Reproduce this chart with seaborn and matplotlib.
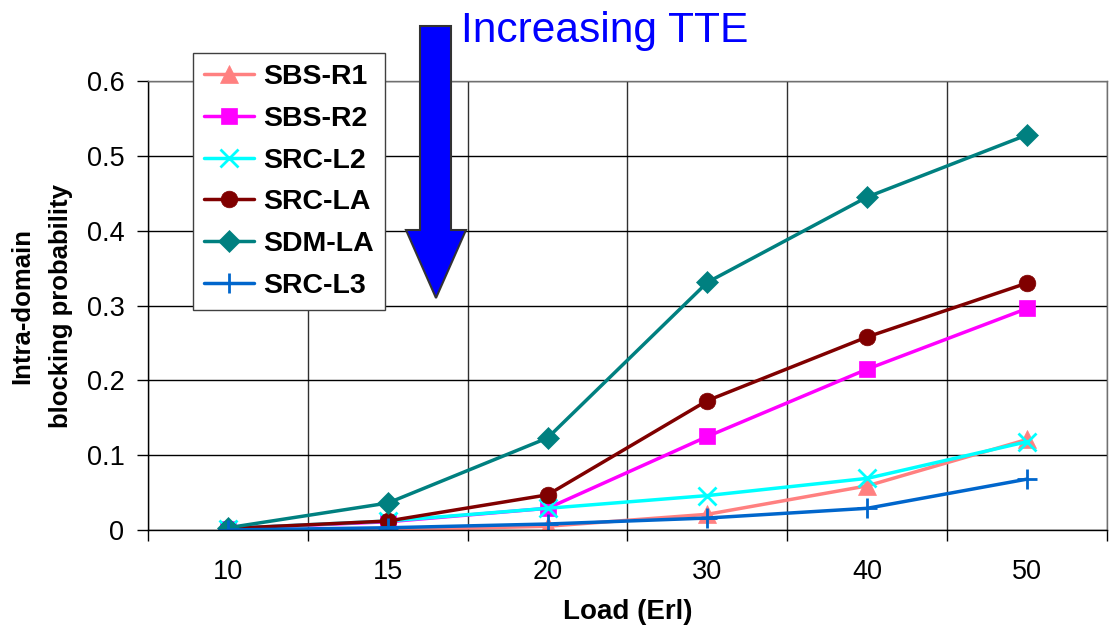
import matplotlib
matplotlib.use("Agg")
import matplotlib.pyplot as plt
from matplotlib.lines import Line2D
from matplotlib.patches import Polygon
from matplotlib.ticker import FixedLocator
import numpy as np
import pandas as pd
import seaborn as sns

# ---------------- data ----------------
loads = ["10", "15", "20", "30", "40", "50"]
series_names = ["SBS-R1", "SBS-R2", "SRC-L2", "SRC-LA", "SDM-LA", "SRC-L3"]
sbs_r1 = [0.000, 0.000, 0.005, 0.021, 0.059, 0.121]
sbs_r2 = [0.002, 0.011, 0.029, 0.125, 0.215, 0.296]
src_l2 = [0.002, 0.012, 0.029, 0.046, 0.069, 0.118]
src_la = [0.002, 0.012, 0.047, 0.173, 0.258, 0.330]
sdm_la = [0.003, 0.036, 0.123, 0.331, 0.445, 0.528]
src_l3 = [0.000, 0.003, 0.008, 0.016, 0.029, 0.068]
y_ticks = [0, 0.1, 0.2, 0.3, 0.4, 0.5, 0.6]
y_tick_labels = ["0", "0.1", "0.2", "0.3", "0.4", "0.5", "0.6"]

# ---------------- styles ----------------
colors = ["#FF8080", "#FF00FF", "#00FFFF", "#800000", "#008080", "#0066CC"]
marker_list = ["^", "s", "x", "o", "D", "+"]
msizes = [13, 11.5, 13, 12, 11, 14]

values = [sbs_r1, sbs_r2, src_l2, src_la, sdm_la, src_l3]

sns.set_style("white")
plt.rcParams["font.family"] = ["Liberation Sans", "DejaVu Sans"]
plt.rcParams["text.color"] = "black"
plt.rcParams["axes.labelcolor"] = "black"
plt.rcParams["xtick.color"] = "black"
plt.rcParams["ytick.color"] = "black"

fig = plt.figure(figsize=(11.12, 6.26), dpi=100)
ax = fig.add_axes([148 / 1112, 1 - 530 / 626, (1107 - 148) / 1112, (530 - 81) / 626])

for name, vals, c, m, ms in zip(series_names, values, colors, marker_list, msizes):
    d = pd.DataFrame({"Load": loads, "P": vals})
    sns.lineplot(data=d, x="Load", y="P", sort=False, color=c, marker=m,
                 markersize=ms, markeredgecolor=c, markerfacecolor=c,
                 markeredgewidth=(2.0 if m in ("x", "+") else 0.5),
                 linewidth=2.5, legend=False, ax=ax)

ax.set_xlim(-0.5, len(loads) - 0.5)
ax.set_ylim(0, 0.6)
ax.set_yticks(y_ticks)
ax.set_yticklabels(y_tick_labels)
ax.xaxis.set_minor_locator(FixedLocator(np.arange(-0.5, len(loads), 1.0)))

ax.grid(False)
ax.grid(axis="y", which="major", color="black", linewidth=1.0)
ax.grid(axis="x", which="minor", color="#303030", linewidth=1.0)
ax.set_axisbelow(True)

ax.tick_params(axis="x", which="major", length=0, pad=21, labelsize=19.5, labelcolor="black")
ax.tick_params(axis="x", which="minor", length=8, width=1, color="black", direction="out", bottom=True)
ax.tick_params(axis="y", which="major", length=8, width=1, color="black", direction="out",
               left=True, pad=9, labelsize=19.5, labelcolor="black")

for s in ["left", "bottom"]:
    ax.spines[s].set_color("black")
    ax.spines[s].set_linewidth(1.0)
for s in ["top", "right"]:
    ax.spines[s].set_color("#707070")
    ax.spines[s].set_linewidth(1.0)

ax.set_xlabel("Load (Erl)", fontsize=20, fontweight="bold", labelpad=10, color="black")
ax.set_ylabel("Intra-domain\nblocking probability", fontsize=18.5, fontweight="bold",
              labelpad=10, linespacing=1.75, color="black")

handles = [Line2D([], [], color=c, marker=m, lw=2.5, ms=ms, mec=c, mfc=c,
                  mew=(2.0 if m in ("x", "+") else 0.5))
           for c, m, ms in zip(colors, marker_list, msizes)]
leg = ax.legend(handles, series_names, loc="upper left",
                bbox_to_anchor=((193 - 148) / 959, (530 - 53) / 449),
                borderaxespad=0, frameon=True, fancybox=False, framealpha=1,
                edgecolor="#404040", prop={"size": 20.5, "weight": "bold"},
                handlelength=1.75, handletextpad=0.3, labelspacing=0.55,
                borderpad=0.4)
leg.get_frame().set_linewidth(1.0)
for t in leg.get_texts():
    t.set_color("black")

# annotation arrow
W, H = 1112, 626
pts = [(420, 26), (451, 26), (451, 230), (466, 230), (436, 298), (406, 230), (420, 230)]
arrow = Polygon([(x / W, 1 - y / H) for x, y in pts], closed=True,
                transform=fig.transFigure, facecolor="#0000FF", edgecolor="#333333",
                linewidth=1.5, zorder=10)
fig.patches.append(arrow)
fig.text(461 / W, 1 - 42 / H, "Increasing TTE", color="#0000FF", fontsize=30.6,
         ha="left", va="baseline")

fig.savefig("out.png", dpi=100)
